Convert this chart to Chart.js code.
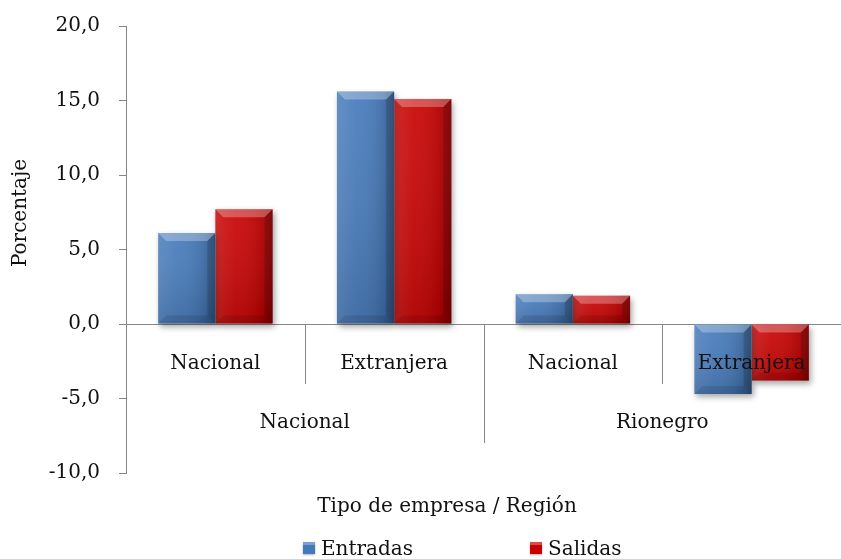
<!DOCTYPE html>
<html>
<head>
<meta charset="utf-8">
<script src="https://cdn.jsdelivr.net/npm/chart.js@4.4.1/dist/chart.umd.min.js"></script>
<style>
  html, body { margin: 0; padding: 0; background: #fff; overflow: hidden; }
  #chart { display: block; }
</style>
</head>
<body>
<canvas id="chart" width="841" height="559"></canvas>
<script>
// ---- data ----
const categories = ['Nacional', 'Extranjera', 'Nacional', 'Extranjera'];
const regions = ['Nacional', 'Rionegro'];
const entradas = [6.1, 15.6, 2.0, -4.7];
const salidas = [7.7, 15.1, 1.9, -3.8];
const yMin = -10, yMax = 20, yStep = 5;
const yTitle = 'Porcentaje';
const xTitle = 'Tipo de empresa / Región';

const FONT = '"DejaVu Serif", "Liberation Serif", serif';
const FSIZE = 20;
const AXIS = '#868686';
const BLUE = '#4479BA';
const RED = '#C80000';

function fmt(v) {
    return v.toFixed(1).replace('.', ',');
}

// bars drawn with a soft drop shadow, then a bevel overlay like the original
const bevelPlugin = {
    id: 'bevel',
    beforeDatasetsDraw(chart) {
        const ctx = chart.ctx;
        ctx.save();
        ctx.shadowColor = 'rgba(0,0,0,0.35)';
        ctx.shadowBlur = 6;
        ctx.shadowOffsetX = 2;
        ctx.shadowOffsetY = 3;
    },
    afterDatasetsDraw(chart) {
        const ctx = chart.ctx;
        ctx.restore();
        chart.data.datasets.forEach((ds, di) => {
            const meta = chart.getDatasetMeta(di);
            meta.data.forEach(bar => {
                const l = bar.x - bar.width / 2, r = bar.x + bar.width / 2;
                const t = Math.min(bar.y, bar.base), b = Math.max(bar.y, bar.base);
                const bv = Math.min(8, (b - t) / 2);
                ctx.save();
                // horizontal shading
                const g = ctx.createLinearGradient(l, 0, r, 0);
                g.addColorStop(0, 'rgba(255,255,255,0.12)');
                g.addColorStop(0.35, 'rgba(255,255,255,0.04)');
                g.addColorStop(0.8, 'rgba(0,0,0,0.10)');
                g.addColorStop(1, 'rgba(0,0,0,0.30)');
                ctx.fillStyle = g;
                ctx.fillRect(l, t, r - l, b - t);
                // vertical shading
                const gv = ctx.createLinearGradient(0, t, 0, b);
                gv.addColorStop(0, 'rgba(255,255,255,0.05)');
                gv.addColorStop(1, 'rgba(0,0,0,0.12)');
                ctx.fillStyle = gv;
                ctx.fillRect(l, t, r - l, b - t);
                // top bevel
                ctx.beginPath();
                ctx.moveTo(l, t);
                ctx.lineTo(r, t);
                ctx.lineTo(r - bv, t + bv);
                ctx.lineTo(l + bv, t + bv);
                ctx.closePath();
                ctx.fillStyle = 'rgba(255,255,255,0.28)';
                ctx.fill();
                // right bevel
                ctx.beginPath();
                ctx.moveTo(r, t);
                ctx.lineTo(r, b);
                ctx.lineTo(r - bv, b - bv);
                ctx.lineTo(r - bv, t + bv);
                ctx.closePath();
                ctx.fillStyle = 'rgba(0,0,0,0.14)';
                ctx.fill();
                // bottom bevel
                ctx.beginPath();
                ctx.moveTo(l, b);
                ctx.lineTo(r, b);
                ctx.lineTo(r - bv, b - bv);
                ctx.lineTo(l + bv, b - bv);
                ctx.closePath();
                ctx.fillStyle = 'rgba(0,0,0,0.10)';
                ctx.fill();
                ctx.restore();
            });
        });
    }
};

// two-level category axis, axis titles and legend
const decorPlugin = {
    id: 'decor',
    afterDraw(chart) {
        const ctx = chart.ctx;
        const x = chart.scales.x;
        const area = chart.chartArea;
        const zeroY = chart.scales.y.getPixelForValue(0);
        const catW = (area.right - area.left) / categories.length;
        ctx.save();
        ctx.strokeStyle = AXIS;
        ctx.lineWidth = 1;
        ctx.fillStyle = '#111';
        ctx.font = FSIZE + 'px ' + FONT;
        ctx.textAlign = 'center';
        ctx.textBaseline = 'middle';

        // inner labels and short dividers
        categories.forEach((c, i) => {
            const cx = x.getPixelForValue(i);
            ctx.fillText(c, cx, zeroY + 40);
            const left = Math.round(cx - catW / 2) + 0.5;
            const long = i % 2 === 0;
            ctx.beginPath();
            ctx.moveTo(left, zeroY);
            ctx.lineTo(left, zeroY + (long ? 119 : 60));
            ctx.stroke();
        });

        // outer region labels
        regions.forEach((rg, k) => {
            const a = x.getPixelForValue(k * 2), b = x.getPixelForValue(k * 2 + 1);
            ctx.fillText(rg, (a + b) / 2, zeroY + 99);
        });

        // x title
        ctx.fillText(xTitle, 447, 507);

        // y title
        ctx.save();
        ctx.translate(21, 213);
        ctx.rotate(-Math.PI / 2);
        ctx.fillText(yTitle, 0, 0);
        ctx.restore();

        // legend
        const items = [[303, 0], [530, 1]];
        items.forEach(([lx, di]) => {
            const ds = chart.data.datasets[di];
            const ly = 550;
            ctx.save();
            ctx.shadowColor = 'rgba(0,0,0,0.3)';
            ctx.shadowBlur = 2;
            ctx.shadowOffsetY = 1;
            ctx.fillStyle = ds.backgroundColor;
            ctx.fillRect(lx, ly - 8, 12, 12);
            ctx.restore();
            ctx.fillStyle = 'rgba(255,255,255,0.3)';
            ctx.fillRect(lx, ly - 8, 12, 3);
            ctx.fillStyle = '#111';
            ctx.textAlign = 'left';
            ctx.fillText(ds.label, lx + 18, ly);
        });
        ctx.restore();
    }
};

new Chart(document.getElementById('chart'), {
    type: 'bar',
    data: {
        labels: categories,
        datasets: [
            { label: 'Entradas', data: entradas, backgroundColor: BLUE },
            { label: 'Salidas', data: salidas, backgroundColor: RED }
        ]
    },
    options: {
        responsive: false,
        animation: false,
        layout: { padding: { top: 26, right: 0, bottom: 86, left: 0 } },
        datasets: {
            bar: { categoryPercentage: 0.64, barPercentage: 1.0, borderWidth: 0 }
        },
        plugins: {
            legend: { display: false },
            tooltip: { enabled: false }
        },
        scales: {
            x: { display: false },
            y: {
                min: yMin,
                max: yMax,
                afterFit: scale => {
                    scale.width = 126;
                    scale.paddingTop = 0;
                    scale.paddingBottom = 0;
                },
                ticks: {
                    stepSize: yStep,
                    padding: 19,
                    color: '#111',
                    font: { family: FONT, size: FSIZE },
                    callback: v => fmt(v)
                },
                border: { display: true, color: AXIS, width: 1 },
                grid: {
                    drawOnChartArea: true,
                    drawTicks: true,
                    tickLength: 7,
                    tickColor: AXIS,
                    color: c => (c.tick && c.tick.value === 0 ? AXIS : 'rgba(0,0,0,0)')
                }
            }
        }
    },
    plugins: [bevelPlugin, decorPlugin]
});
</script>
</body>
</html>
